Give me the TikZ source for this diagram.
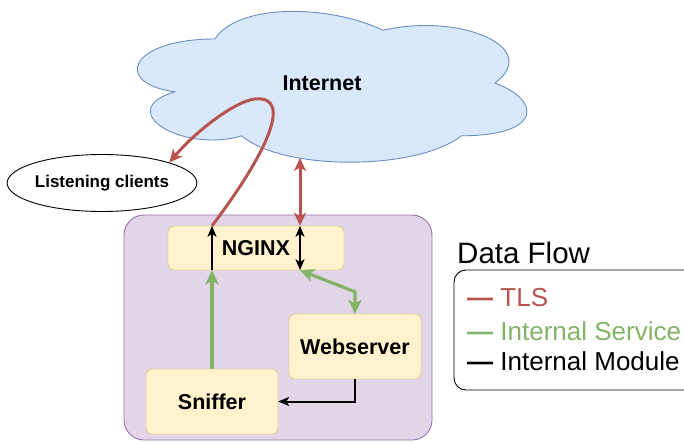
\documentclass[tikz,border=0pt]{standalone}
\usepackage{fontspec}
\setmainfont{Liberation Sans}
\usetikzlibrary{positioning, calc, shapes.geometric, arrows.meta}

\definecolor{tlsred}{HTML}{B85450}
\definecolor{svcgreen}{HTML}{82B366}
\definecolor{cloudfill}{HTML}{DAE8FC}
\definecolor{cloudline}{HTML}{6C8EBF}
\definecolor{hostfill}{HTML}{E1D5E7}
\definecolor{hostline}{HTML}{9673A6}
\definecolor{boxfill}{HTML}{FFF2CC}
\definecolor{boxline}{HTML}{D6B656}

\begin{document}
\begin{tikzpicture}[x=1pt, y=-1pt,
    module/.style={draw=boxline, fill=boxfill, rounded corners=6pt, inner sep=0pt,
        font=\fontsize{21.5}{26}\selectfont\bfseries},
    tls/.style={draw=tlsred, line width=3pt, >={Stealth[length=13pt, width=12pt, inset=3.5pt]}},
    svc/.style={draw=svcgreen, line width=3.2pt, >={Stealth[length=14pt, width=13pt, inset=3.5pt]}},
    intern/.style={draw=black, line width=2pt, >={Stealth[length=11pt, width=9pt, inset=3pt]}},
    legendtext/.style={inner sep=0pt, anchor=west, font=\fontsize{26}{30}\selectfont}]
    \useasboundingbox (0,0) rectangle (684,441);

    % Cloud
    \begin{scope}[shift={(103,-5)}, x=448pt, y=-176pt]
        \draw[fill=cloudfill, draw=cloudline, line width=0.9pt]
            (0.25,0.25) .. controls (0.06,0.25) and (0.02,0.5) .. (0.16,0.55)
            .. controls (0.02,0.66) and (0.18,0.9) .. (0.31,0.8)
            .. controls (0.4,1) and (0.7,1) .. (0.8,0.8)
            .. controls (0.98,0.8) and (0.98,0.6) .. (0.875,0.5)
            .. controls (0.98,0.3) and (0.8,0.1) .. (0.625,0.2)
            .. controls (0.5,0.05) and (0.3,0.05) .. (0.25,0.25) -- cycle;
    \end{scope}
    \node[font=\fontsize{21.5}{26}\selectfont\bfseries] (internet) at (322,83) {Internet};
    \coordinate (cloud-s) at (300,158);

    % Listening clients
    \node[draw, ellipse, line width=0.9pt, minimum width=175pt, minimum height=57pt, inner sep=0pt,
        font=\fontsize{17}{20}\selectfont\bfseries] (listen) at (102,183) {Listening clients};

    % Host
    \draw[fill=hostfill, draw=hostline, line width=0.9pt, rounded corners=20pt] (124,215) rectangle (432,440);
    \node[module, minimum width=176pt, minimum height=44pt] (nginx) at (256,248) {NGINX};
    \node[module, minimum width=132pt, minimum height=65pt] (web) at (355,346.5) {Webserver};
    \node[module, minimum width=132pt, minimum height=65pt] (sniff) at (212,401.5) {Sniffer};

    % Flows
    \draw[svc, ->] (sniff.north) -- (sniff |- nginx.south);
    \draw[intern, ->] (sniff |- nginx.south) -- (sniff |- nginx.north);
    \draw[tls, ->] (sniff |- nginx.north) .. controls (262,160) and (296,95) .. (255,99)
        .. controls (235,101) and (195,132) .. (listen.north east);
    \draw[tls, <->] (cloud-s) -- (cloud-s |- nginx.north);
    \draw[intern, <->] (cloud-s |- nginx.north) -- (cloud-s |- nginx.south);
    \draw[svc, <->] (cloud-s |- nginx.south) -- ([yshift=22pt]web.north) -- (web.north);
    \draw[intern, ->] (web.south) |- (sniff.east);

    % Legend
    \node[inner sep=0pt, anchor=west, font=\fontsize{29.5}{34}\selectfont] (title) at (457,253) {Data Flow};
    \draw[line width=0.9pt, rounded corners=12pt] (454,270) rectangle (700,390);
    \node[legendtext, text=tlsred] (l-tls) at (467,298) {\textbf{—} TLS};
    \node[legendtext, text=svcgreen] (l-svc) at (467,331) {\textbf{—} Internal Service};
    \node[legendtext] (l-mod) at (467,361) {\textbf{—} Internal Module};
\end{tikzpicture}
\end{document}
